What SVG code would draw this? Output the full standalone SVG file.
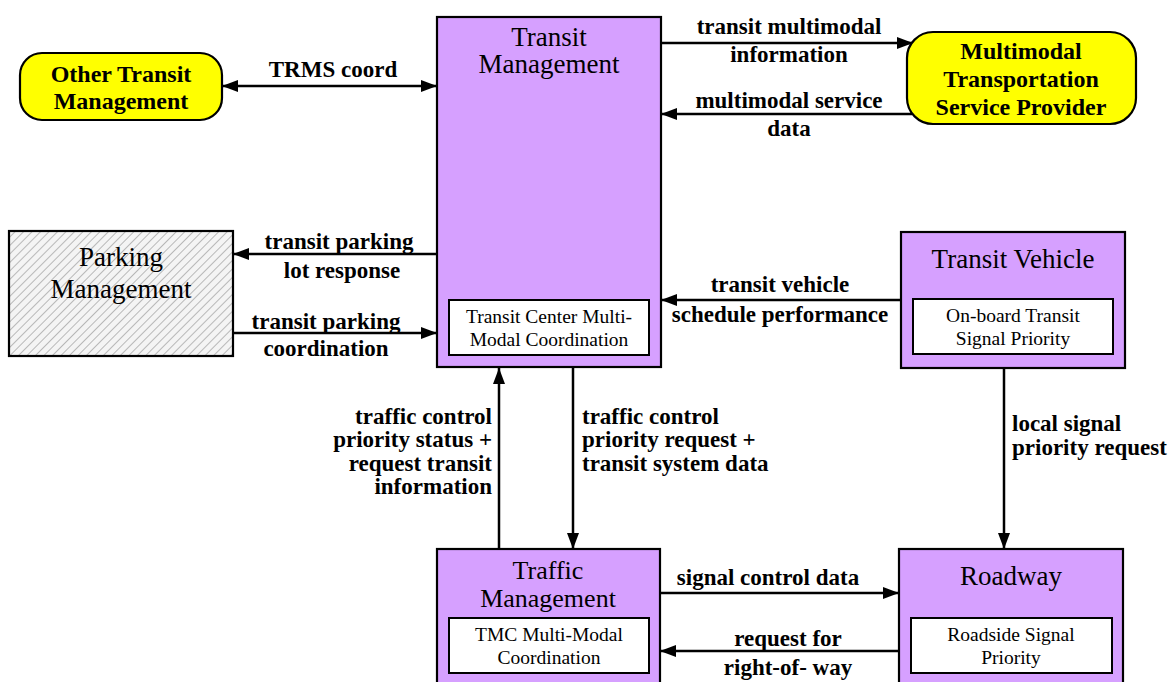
<svg xmlns="http://www.w3.org/2000/svg" width="1173" height="682" viewBox="0 0 1173 682">
<defs>
<style>
.box{fill:#D6A0FF;stroke:#000;stroke-width:2.2}
.inner{fill:#fff;stroke:#000;stroke-width:2}
.term{fill:#FFFF00;stroke:#000;stroke-width:2.2}
.title{font-family:"Liberation Serif",serif;font-size:27px;text-anchor:middle;fill:#000}
.sub{font-family:"Liberation Serif",serif;font-size:19.5px;text-anchor:middle;fill:#000}
.tb{font-family:"Liberation Serif",serif;font-size:24px;font-weight:bold;text-anchor:middle;fill:#000}
.lbl{font-family:"Liberation Serif",serif;font-size:23px;font-weight:bold;fill:#000}
.c{text-anchor:middle}
.r{text-anchor:end}
.l{text-anchor:start}
.ln{stroke:#000;stroke-width:2.5;fill:none}
</style>
<marker id="ah" viewBox="0 0 16 12" refX="16" refY="6" markerWidth="16" markerHeight="12" markerUnits="userSpaceOnUse" orient="auto-start-reverse">
<path d="M0,0 L16,6 L0,12 Z" fill="#000"/>
</marker>
<pattern id="hatch" width="6" height="6" patternUnits="userSpaceOnUse" patternTransform="rotate(45)">
<rect width="6" height="6" fill="#f4f4f4"/>
<line x1="0" y1="0" x2="0" y2="6" stroke="#b8b8b8" stroke-width="2"/>
</pattern>
</defs>
<rect width="1173" height="682" fill="#fff"/>

<g id="connectors">
<line class="ln" x1="222" y1="86" x2="437" y2="86" marker-start="url(#ah)" marker-end="url(#ah)"/>
<line class="ln" x1="661" y1="43" x2="913" y2="43" marker-end="url(#ah)"/>
<line class="ln" x1="912" y1="114" x2="661" y2="114" marker-end="url(#ah)"/>
<line class="ln" x1="437" y1="254" x2="233" y2="254" marker-end="url(#ah)"/>
<line class="ln" x1="233" y1="333" x2="437" y2="333" marker-end="url(#ah)"/>
<line class="ln" x1="901" y1="300" x2="661" y2="300" marker-end="url(#ah)"/>
<line class="ln" x1="499" y1="549" x2="499" y2="368" marker-end="url(#ah)"/>
<line class="ln" x1="573" y1="368" x2="573" y2="549" marker-end="url(#ah)"/>
<line class="ln" x1="1004" y1="368" x2="1004" y2="549" marker-end="url(#ah)"/>
<line class="ln" x1="660" y1="593" x2="899" y2="593" marker-end="url(#ah)"/>
<line class="ln" x1="899" y1="651" x2="660" y2="651" marker-end="url(#ah)"/>

<text class="lbl c" x="333" y="77">TRMS coord</text>
<text class="lbl c" x="789" y="34">transit multimodal</text>
<text class="lbl c" x="789" y="62">information</text>
<text class="lbl c" x="789" y="108">multimodal service</text>
<text class="lbl c" x="789" y="136">data</text>
<text class="lbl c" x="339" y="249">transit parking</text>
<text class="lbl c" x="342" y="278">lot response</text>
<text class="lbl c" x="326" y="329">transit parking</text>
<text class="lbl c" x="326" y="356">coordination</text>
<text class="lbl c" x="780" y="292">transit vehicle</text>
<text class="lbl c" x="780" y="322">schedule performance</text>
<text class="lbl r" x="492" y="424">traffic control</text>
<text class="lbl r" x="492" y="447">priority status +</text>
<text class="lbl r" x="492" y="471">request transit</text>
<text class="lbl r" x="492" y="494">information</text>
<text class="lbl l" x="582" y="424">traffic control</text>
<text class="lbl l" x="582" y="447">priority request +</text>
<text class="lbl l" x="582" y="471">transit system data</text>
<text class="lbl l" x="1012" y="431">local signal</text>
<text class="lbl l" x="1012" y="455">priority request</text>
<text class="lbl c" x="768" y="585">signal control data</text>
<text class="lbl c" x="788" y="646">request for</text>
<text class="lbl c" x="788" y="675">right-of- way</text>
</g>

<g id="transit-management">
<rect class="box" x="437" y="17" width="224" height="350"/>
<text class="title" x="549" y="46">Transit</text>
<text class="title" x="549" y="73">Management</text>
<rect class="inner" x="449" y="300" width="200" height="55"/>
<text class="sub" x="549" y="323">Transit Center Multi-</text>
<text class="sub" x="549" y="346">Modal Coordination</text>
</g>

<g id="other-transit-management">
<rect class="term" x="20" y="53" width="202" height="67" rx="22"/>
<text class="tb" x="121" y="82">Other Transit</text>
<text class="tb" x="121" y="109">Management</text>
</g>

<g id="multimodal-provider">
<rect class="term" x="907" y="32" width="229" height="92" rx="26"/>
<text class="tb" x="1021" y="59">Multimodal</text>
<text class="tb" x="1021" y="87">Transportation</text>
<text class="tb" x="1021" y="115">Service Provider</text>
</g>

<g id="parking-management">
<rect x="9" y="231" width="224" height="125" fill="url(#hatch)" stroke="#000" stroke-width="2.2"/>
<text class="title" x="121" y="266">Parking</text>
<text class="title" x="121" y="298">Management</text>
</g>

<g id="transit-vehicle">
<rect class="box" x="901" y="232" width="224" height="136"/>
<text class="title" x="1013" y="268">Transit Vehicle</text>
<rect class="inner" x="913" y="299" width="200" height="55"/>
<text class="sub" x="1013" y="322">On-board Transit</text>
<text class="sub" x="1013" y="345">Signal Priority</text>
</g>

<g id="traffic-management">
<rect class="box" x="437" y="549" width="223" height="145"/>
<text class="title" x="548" y="579" style="font-size:26px">Traffic</text>
<text class="title" x="548" y="607" style="font-size:26px">Management</text>
<rect class="inner" x="449" y="618" width="200" height="55"/>
<text class="sub" x="549" y="641">TMC Multi-Modal</text>
<text class="sub" x="549" y="664">Coordination</text>
</g>

<g id="roadway">
<rect class="box" x="899" y="549" width="224" height="145"/>
<text class="title" x="1011" y="585">Roadway</text>
<rect class="inner" x="911" y="618" width="201" height="55"/>
<text class="sub" x="1011" y="641">Roadside Signal</text>
<text class="sub" x="1011" y="664">Priority</text>
</g>
</svg>
